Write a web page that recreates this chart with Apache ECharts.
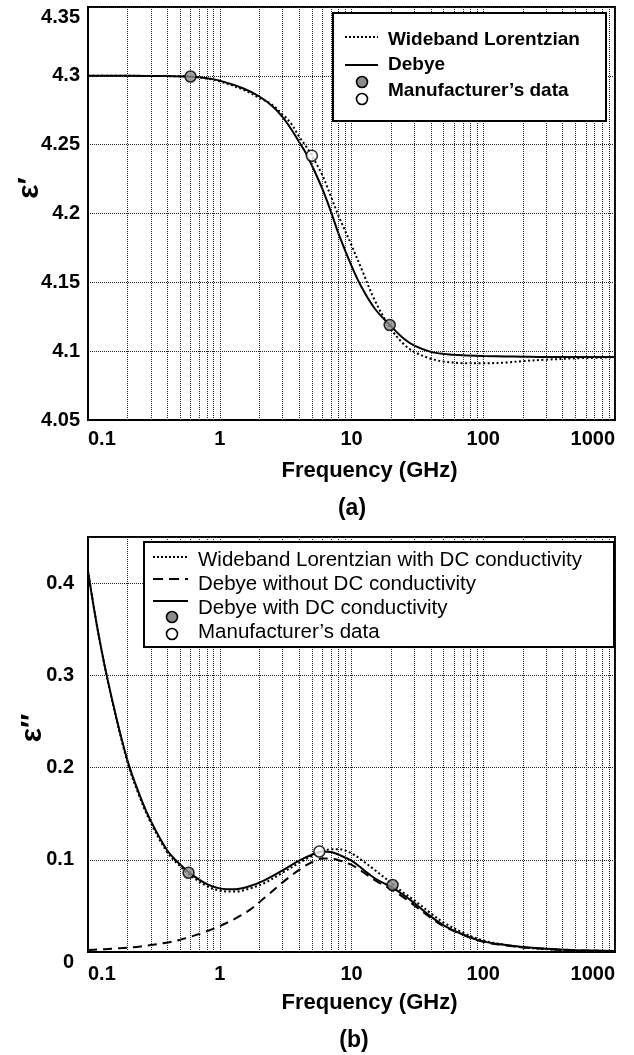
<!DOCTYPE html>
<html><head><meta charset="utf-8">
<script src="https://cdn.jsdelivr.net/npm/echarts@6/dist/echarts.min.js"></script>
<style>html,body{margin:0;padding:0;background:#fff}#c{width:634px;height:1055px}</style>
</head><body><div id="c"></div>
<script>
// ---- data ----
const freqA = [0.1, 0.2, 0.4, 0.6, 0.8, 1, 1.5, 2, 2.5, 3, 3.5, 4, 4.5, 5, 6, 7, 8, 10, 12, 15, 20, 25, 30, 40, 50, 70, 100, 150, 200, 300, 500, 1000];
const debyeA = [4.3, 4.3, 4.2998, 4.2993, 4.2982, 4.2965, 4.291, 4.285, 4.278, 4.27, 4.261, 4.252, 4.244, 4.235, 4.218, 4.201, 4.185, 4.162, 4.146, 4.131, 4.118, 4.109, 4.104, 4.0995, 4.098, 4.097, 4.0965, 4.0962, 4.096, 4.0958, 4.0958, 4.0958];
const wlA = [4.3, 4.3, 4.2998, 4.2995, 4.298, 4.296, 4.29, 4.284, 4.279, 4.272, 4.265, 4.256, 4.249, 4.242, 4.228, 4.212, 4.198, 4.177, 4.159, 4.137, 4.116, 4.105, 4.0995, 4.0945, 4.0925, 4.0913, 4.0912, 4.0918, 4.0928, 4.0938, 4.0948, 4.0955];
const mfgFitA = [[0.6, 4.2995], [19.5, 4.119]];
const mfgOpenA = [[5.0, 4.242]];

const freqB = [0.1, 0.12, 0.15, 0.2, 0.25, 0.3, 0.4, 0.5, 0.6, 0.8, 1, 1.3, 1.7, 2.2, 3, 4, 5, 6, 7, 8, 10, 12, 15, 20, 25, 30, 40, 50, 70, 100, 150, 200, 300, 500, 700, 1000];
const debyeDcB = [0.413, 0.345, 0.278, 0.207, 0.168, 0.142, 0.11, 0.095, 0.085, 0.0735, 0.069, 0.068, 0.0715, 0.078, 0.0885, 0.099, 0.1055, 0.109, 0.1085, 0.1055, 0.099, 0.0905, 0.08, 0.0705, 0.0615, 0.053, 0.0385, 0.029, 0.019, 0.0115, 0.0075, 0.0055, 0.0035, 0.002, 0.0015, 0.001];
const wlDcB = [0.413, 0.345, 0.277, 0.205, 0.166, 0.14, 0.108, 0.093, 0.083, 0.0715, 0.0665, 0.0655, 0.069, 0.075, 0.086, 0.0965, 0.104, 0.109, 0.1115, 0.1115, 0.107, 0.0995, 0.089, 0.075, 0.064, 0.056, 0.042, 0.032, 0.021, 0.0125, 0.0075, 0.005, 0.003, 0.0015, 0.001, 0.0008];
const debyeNoDcB = [0.0022, 0.0027, 0.0035, 0.0047, 0.006, 0.0075, 0.0103, 0.0133, 0.0165, 0.0225, 0.028, 0.036, 0.046, 0.059, 0.0755, 0.089, 0.0975, 0.1015, 0.1015, 0.0995, 0.0945, 0.0875, 0.078, 0.068, 0.059, 0.0505, 0.037, 0.028, 0.0185, 0.011, 0.007, 0.005, 0.0033, 0.0018, 0.0013, 0.0009];
const mfgFitB = [[0.58, 0.086], [20.5, 0.0726]];
const mfgOpenB = [[5.7, 0.109]];

const xMinorGrid = [0.2, 0.3, 0.4, 0.5, 0.6, 0.7, 0.8, 0.9, 2, 3, 4, 5, 6, 7, 8, 9, 20, 30, 40, 50, 60, 70, 80, 90, 200, 300, 400, 500, 600, 700, 800, 900];

const legendA = ['Wideband Lorentzian', 'Debye', 'Manufacturer\u2019s data'];
const legendB = ['Wideband Lorentzian with DC conductivity', 'Debye without DC conductivity', 'Debye with DC conductivity', 'Manufacturer\u2019s data'];

// ---- chart ----
const FONT = "'Liberation Sans', Arial, Helvetica, sans-serif";
const GRID_LINE = { type: [1, 1], color: '#222', width: 1 };
const pairs = (xs, ys) => xs.map((x, i) => [x, ys[i]]);
const fmtNum = v => String(Number(Number(v).toPrecision(6)));

function xAxisCfg(gi, labelMargin) {
  return {
    type: 'log', logBase: 10, gridIndex: gi, min: 0.1, max: 1000,
    name: 'Frequency (GHz)', nameLocation: 'middle', nameGap: 40,
    nameTextStyle: { fontFamily: FONT, fontWeight: 'bold', fontSize: 22, color: '#000', padding: [0, 0, 0, 36] },
    axisLine: { show: true, lineStyle: { color: '#000', width: 2 } },
    axisTick: { show: false },
    axisLabel: { fontFamily: FONT, fontWeight: 'bold', fontSize: 20, color: '#000', margin: labelMargin,
      formatter: fmtNum, alignMinLabel: 'left', alignMaxLabel: 'right', showMinLabel: true, showMaxLabel: true },
    splitLine: { show: true, lineStyle: GRID_LINE },
    minorTick: { show: false }, minorSplitLine: { show: false }
  };
}

function gridMarks(xi, yi) {
  return {
    type: 'line', xAxisIndex: xi, yAxisIndex: yi, data: [], silent: true, z: 1,
    markLine: {
      silent: true, symbol: ['none', 'none'], label: { show: false }, animation: false,
      lineStyle: GRID_LINE, emphasis: { disabled: true },
      data: xMinorGrid.map(v => ({ xAxis: v }))
    }
  };
}

function lineSeries(xi, yi, data, dash) {
  return {
    type: 'line', xAxisIndex: xi, yAxisIndex: yi, data: data, showSymbol: false, smooth: 0.35, z: 3,
    lineStyle: { color: '#000', width: 2, type: dash || 'solid' }, silent: true
  };
}

function markerSeries(xi, yi, data, fill) {
  return {
    type: 'scatter', xAxisIndex: xi, yAxisIndex: yi, data: data, symbol: 'circle', symbolSize: 11, z: 5,
    itemStyle: { color: fill, borderColor: '#000', borderWidth: 1.6 }, silent: true
  };
}

const graphics = [];
function gRect(x, y, w, h) {
  graphics.push({ type: 'rect', z: 100, shape: { x: x, y: y, width: w, height: h }, style: { fill: '#fff', stroke: '#000', lineWidth: 2 } });
}
function gLine(x1, y1, x2, y2, dash) {
  graphics.push({ type: 'line', z: 101, shape: { x1: x1, y1: y1, x2: x2, y2: y2 }, style: { stroke: '#000', lineWidth: 2, lineDash: dash || null } });
}
function gCircle(cx, cy, fill) {
  graphics.push({ type: 'circle', z: 101, shape: { cx: cx, cy: cy, r: 5.5 }, style: { fill: fill, stroke: '#000', lineWidth: 1.6 } });
}
function gText(x, y, text, font, align, rot) {
  graphics.push({ type: 'text', z: 101, x: x, y: y, rotation: rot || 0,
    style: { text: text, font: font, fill: '#000', textAlign: align || 'left', align: align || 'left', textVerticalAlign: 'middle', verticalAlign: 'middle' } });
}

// legend (a)
gRect(333, 13, 273, 108);
gLine(345, 37, 378, 37, [2, 2]);
gText(388, 40, legendA[0], 'bold 19px ' + FONT);
gLine(345, 65, 378, 65);
gText(388, 65, legendA[1], 'bold 19px ' + FONT);
gCircle(362, 82, '#8c8c8c');
gCircle(362, 99, '#fff');
gText(388, 91, legendA[2], 'bold 19px ' + FONT);

// legend (b)
gRect(144, 542, 470, 105);
gLine(153, 557, 188, 557, [2, 2]);
gText(198, 560, legendB[0], '20.5px ' + FONT);
gLine(153, 579, 188, 579, [10, 6]);
gText(198, 584, legendB[1], '20.5px ' + FONT);
gLine(153, 601, 188, 601);
gText(198, 608, legendB[2], '20.5px ' + FONT);
gCircle(172, 617, '#8c8c8c');
gCircle(172, 634, '#fff');
gText(198, 632, legendB[3], '20.5px ' + FONT);

// y-axis names and captions
gText(30, 188, '\u03B5\u2032', 'bold 30px ' + FONT, 'center', Math.PI / 2);
gText(33, 728, '\u03B5\u2033', 'bold 30px ' + FONT, 'center', Math.PI / 2);
gText(352, 509, '(a)', 'bold 23px ' + FONT, 'center');
gText(354, 1041, '(b)', 'bold 23px ' + FONT, 'center');

const option = {
  animation: false,
  backgroundColor: '#fff',
  grid: [
    { left: 88, top: 7, width: 527, height: 413, show: true, borderColor: '#000', borderWidth: 2, backgroundColor: 'transparent' },
    { left: 88, top: 537, width: 527, height: 415, show: true, borderColor: '#000', borderWidth: 2, backgroundColor: 'transparent' }
  ],
  xAxis: [xAxisCfg(0, 9), xAxisCfg(1, 12)],
  yAxis: [
    { type: 'value', gridIndex: 0, min: 4.05, max: 4.35, interval: 0.05,
      axisLine: { show: true, lineStyle: { color: '#000', width: 2 } }, axisTick: { show: false },
      axisLabel: { fontFamily: FONT, fontWeight: 'bold', fontSize: 20, color: '#000', margin: 8, verticalAlignMaxLabel: 'top',
        formatter: v => Number(v).toFixed(2).replace(/0$/, '') },
      splitLine: { show: true, lineStyle: GRID_LINE } },
    { type: 'value', gridIndex: 1, min: 0, max: 0.45, interval: 0.1,
      axisLine: { show: true, lineStyle: { color: '#000', width: 2 } }, axisTick: { show: false },
      axisLabel: { fontFamily: FONT, fontWeight: 'bold', fontSize: 20, color: '#000', margin: 14, showMaxLabel: false,
        verticalAlignMinLabel: 'top', formatter: fmtNum },
      splitLine: { show: true, lineStyle: GRID_LINE } }
  ],
  graphic: graphics,
  series: [
    gridMarks(0, 0),
    gridMarks(1, 1),
    lineSeries(0, 0, pairs(freqA, wlA), [2, 2.5]),
    lineSeries(0, 0, pairs(freqA, debyeA)),
    markerSeries(0, 0, mfgFitA, '#8c8c8c'),
    markerSeries(0, 0, mfgOpenA, '#fff'),
    lineSeries(1, 1, pairs(freqB, wlDcB), [2, 2.5]),
    lineSeries(1, 1, pairs(freqB, debyeNoDcB), [9, 6]),
    lineSeries(1, 1, pairs(freqB, debyeDcB)),
    markerSeries(1, 1, mfgFitB, '#8c8c8c'),
    markerSeries(1, 1, mfgOpenB, '#fff')
  ]
};
const chart = echarts.init(document.getElementById('c'), null, { renderer: 'canvas' });
chart.setOption(option);
</script></body></html>
